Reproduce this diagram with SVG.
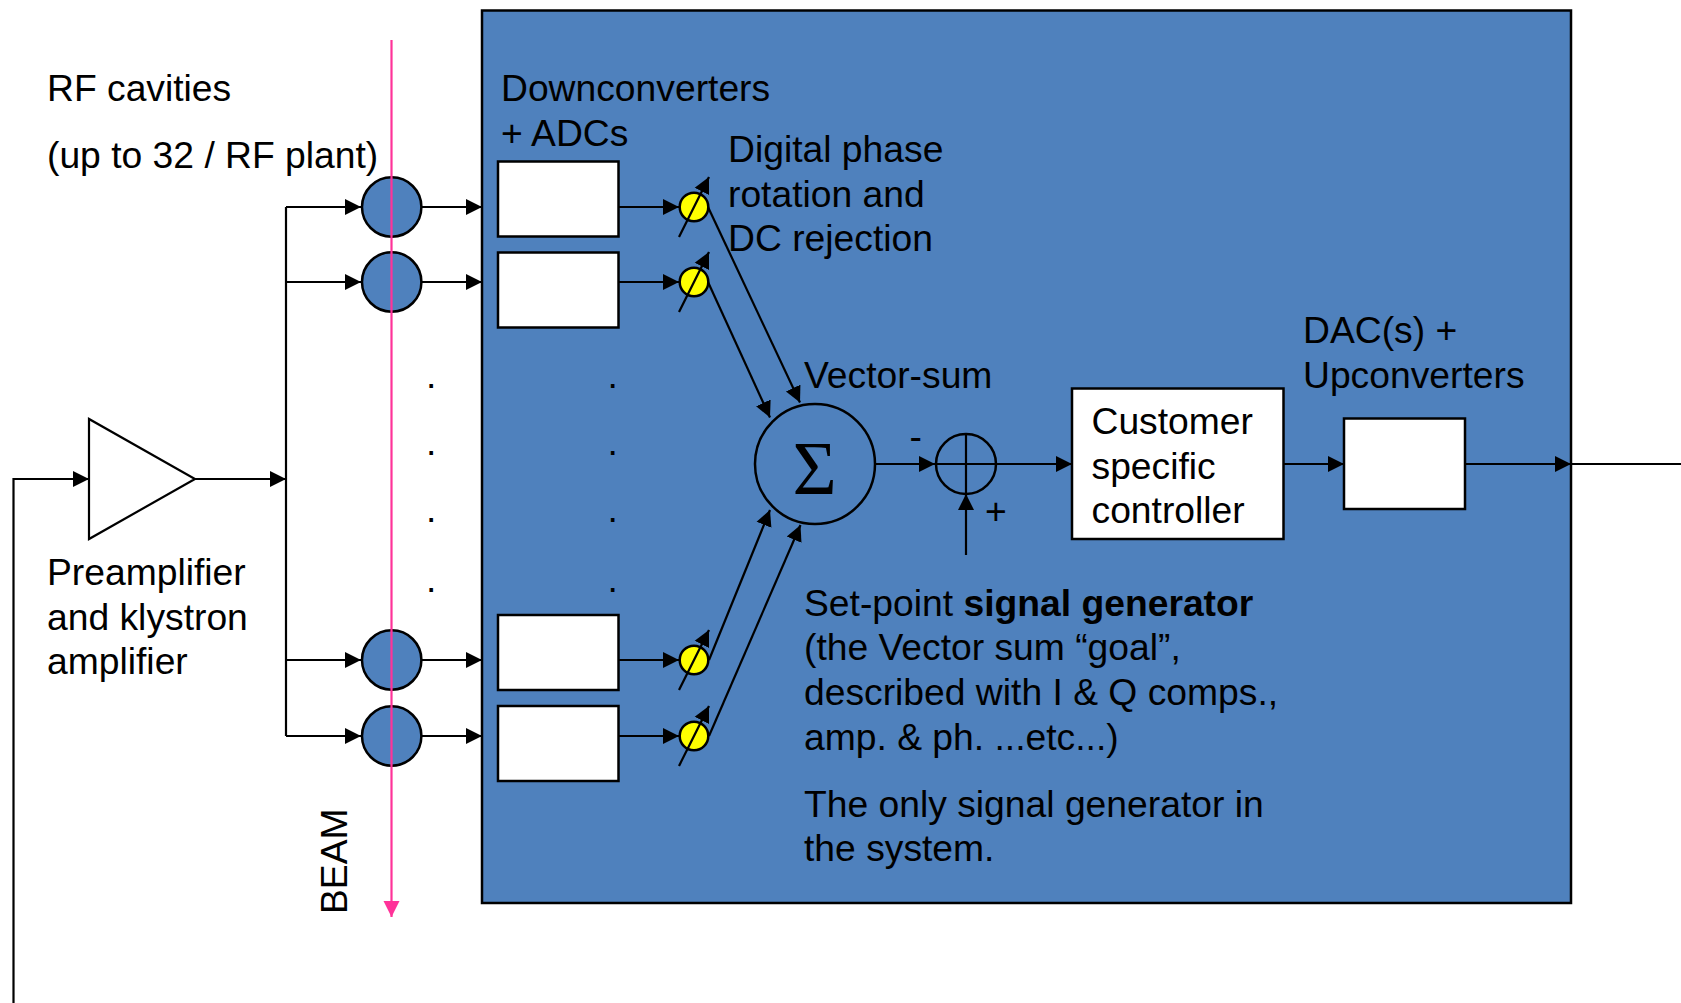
<svg xmlns="http://www.w3.org/2000/svg" width="1681" height="1003" viewBox="0 0 1681 1003">
<style>
text{font-family:"Liberation Sans",Arial,sans-serif;font-size:37.25px;fill:#000}
.l{fill:none;stroke:#000;stroke-width:2.2}
.a{fill:none;stroke:#000;stroke-width:2.2;marker-end:url(#ah)}
.b{fill:#fff;stroke:#000;stroke-width:2.5}
.c{fill:#4f81bd;stroke:#000;stroke-width:2.5}
.y{fill:#ff0;stroke:#000;stroke-width:2.5}
.s{fill:none;stroke:#000;stroke-width:2.5}
</style>
<defs>
<marker id="ah" markerUnits="userSpaceOnUse" markerWidth="18" markerHeight="18" refX="16" refY="9" orient="auto"><path d="M0 1L16 9L0 17Z" fill="#000"/></marker>
<marker id="ap" markerUnits="userSpaceOnUse" markerWidth="18" markerHeight="18" refX="16" refY="9" orient="auto"><path d="M0 1L16 9L0 17Z" fill="#ff3399"/></marker>
</defs>
<g id="panel"><rect x="482" y="10.500" width="1089" height="892.500" fill="#4f81bd" stroke="#000" stroke-width="2.5"/></g>
<g id="preamp"><path d="M89 419L89 539L195 479Z" fill="#fff" stroke="#000" stroke-width="2.2"/></g>
<g id="connectors">
<path class="l" d="M286 207V736"/>
<path class="a" d="M13.500 1003V479H89"/>
<path class="a" d="M195 479H286"/>
<path class="a" d="M286 207H361"/><path class="a" d="M286 282H361"/><path class="a" d="M286 660H361"/><path class="a" d="M286 736H361"/>
<path class="a" d="M422 207H482"/><path class="a" d="M422 282H482"/><path class="a" d="M422 660H482"/><path class="a" d="M422 736H482"/>
<path class="a" d="M619 207H679"/><path class="a" d="M619 282H679"/><path class="a" d="M619 660H679"/><path class="a" d="M619 736H679"/>
<path class="a" d="M708 207L800 402.500"/><path class="a" d="M708 282L770 417.500"/><path class="a" d="M709 660L770 510"/><path class="a" d="M709 736L800.500 525"/>
<path class="a" d="M876 464H935"/><path class="a" d="M997 464H1072"/><path class="a" d="M966 555V494"/>
<path class="a" d="M1284 464H1344"/><path class="a" d="M1466 464H1571"/><path class="l" d="M1571 464H1681"/>
</g>
<g id="cav1"><circle class="c" cx="391.700" cy="207" r="29.700"/></g>
<g id="cav2"><circle class="c" cx="391.700" cy="282" r="29.700"/></g>
<g id="cav3"><circle class="c" cx="391.700" cy="660" r="29.700"/></g>
<g id="cav4"><circle class="c" cx="391.700" cy="736" r="29.700"/></g>
<g id="beam"><path d="M391.500 40V917" fill="none" stroke="#ff3399" stroke-width="2.2" marker-end="url(#ap)"/></g>
<g id="adc1"><rect class="b" x="498" y="161.500" width="120.500" height="75"/></g>
<g id="adc2"><rect class="b" x="498" y="252.500" width="120.500" height="75"/></g>
<g id="adc3"><rect class="b" x="498" y="615" width="120.500" height="75"/></g>
<g id="adc4"><rect class="b" x="498" y="706" width="120.500" height="75"/></g>
<g id="rot1"><circle class="y" cx="694" cy="207" r="14.300"/><path class="a" d="M679 237L709 177"/></g>
<g id="rot2"><circle class="y" cx="694" cy="282" r="14.300"/><path class="a" d="M679 312L709 252"/></g>
<g id="rot3"><circle class="y" cx="694" cy="660" r="14.300"/><path class="a" d="M679 690L709 630"/></g>
<g id="rot4"><circle class="y" cx="694" cy="736" r="14.300"/><path class="a" d="M679 766L709 706"/></g>
<g id="sigma"><circle class="s" cx="815" cy="464" r="60"/><text x="814.500" y="494" text-anchor="middle" style="font-family:'Liberation Serif',serif;font-size:76px">Σ</text></g>
<g id="sum"><circle class="s" cx="966" cy="464" r="30"/><path class="l" d="M966 433.500V494M935.500 464H996.500"/></g>
<g id="controller"><rect class="b" x="1072" y="388.500" width="211.500" height="150.500"/>
<text x="1091.500" y="434">Customer</text><text x="1091.500" y="479">specific</text><text x="1091.500" y="523">controller</text></g>
<g id="dac"><rect class="b" x="1344" y="418.500" width="121" height="90.500"/></g>
<g id="labels">
<text x="47" y="101">RF cavities</text><text x="47" y="168">(up to 32 / RF plant)</text>
<text x="501" y="101">Downconverters</text><text x="501" y="146">+ ADCs</text>
<text x="728" y="162">Digital phase</text><text x="728" y="207">rotation and</text><text x="728" y="251">DC rejection</text>
<text x="804" y="388">Vector-sum</text>
<text x="1303" y="343">DAC(s) +</text><text x="1303" y="388">Upconverters</text>
<text x="47" y="585">Preamplifier</text><text x="47" y="630">and klystron</text><text x="47" y="674">amplifier</text>
<text x="909.500" y="449">-</text><text x="985" y="523.500">+</text>
<text x="804" y="616">Set-point <tspan font-weight="bold">signal generator</tspan></text>
<text x="804" y="660">(the Vector sum “goal”,</text><text x="804" y="705">described with I &amp; Q comps.,</text><text x="804" y="750">amp. &amp; ph. ...etc...)</text>
<text x="804" y="817">The only signal generator in</text><text x="804" y="861">the system.</text>
<text transform="translate(347 914) rotate(-90)">BEAM</text>
<text x="426" y="387.500">.</text><text x="426" y="454.500">.</text><text x="426" y="521.500">.</text><text x="426" y="591.500">.</text>
<text x="607.500" y="387.500">.</text><text x="607.500" y="454.500">.</text><text x="607.500" y="521.500">.</text><text x="607.500" y="591.500">.</text>
</g>
</svg>
